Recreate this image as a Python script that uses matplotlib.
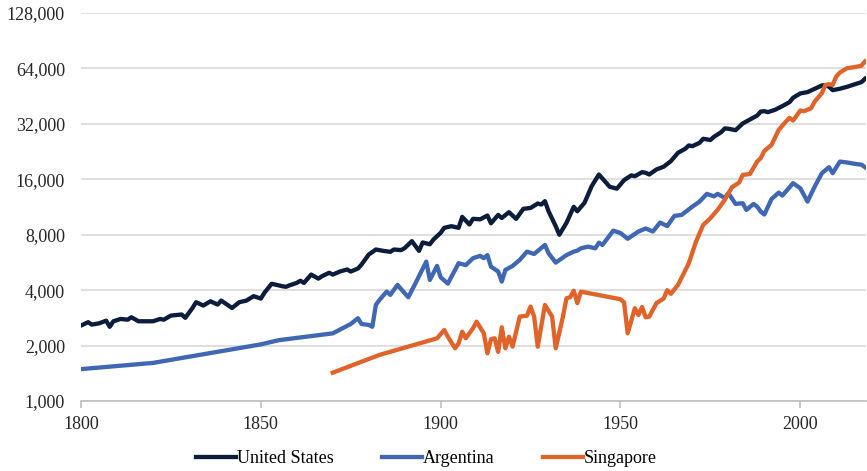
import numpy as np
import matplotlib.pyplot as plt
from matplotlib.ticker import FixedLocator, FuncFormatter

# GDP per capita, log2 scale
us_years = [1800, 1802, 1803, 1805, 1807, 1808, 1809, 1811, 1813, 1814, 1816, 1820,
            1822, 1823, 1825, 1828, 1829, 1831, 1832, 1834, 1836, 1838, 1839, 1841,
            1842, 1844, 1846, 1848, 1850, 1851, 1853, 1854, 1856, 1857, 1858, 1860,
            1861, 1862, 1864, 1866, 1867, 1869, 1870, 1872, 1874, 1875, 1877, 1878,
            1880, 1882, 1884, 1886, 1887, 1889, 1890, 1892, 1894, 1895, 1897, 1898,
            1900, 1901, 1903, 1905, 1906, 1908, 1909, 1911, 1913, 1914, 1916, 1917,
            1919, 1921, 1923, 1925, 1927, 1928, 1929, 1930, 1932, 1933, 1935, 1937,
            1938, 1940, 1942, 1944, 1945, 1947, 1948, 1949, 1951, 1953, 1954, 1956,
            1957, 1958, 1960, 1962, 1964, 1966, 1968, 1969, 1970, 1972, 1973, 1975,
            1976, 1978, 1979, 1980, 1982, 1984, 1986, 1988, 1989, 1990, 1991, 1993,
            1995, 1997, 1998, 2000, 2002, 2004, 2006, 2007, 2008, 2009, 2011, 2013,
            2015, 2017, 2018]
us_gdp = [2570, 2680, 2600, 2640, 2730, 2530, 2710, 2790, 2765, 2850, 2710, 2710,
          2790, 2765, 2910, 2950, 2830, 3200, 3440, 3300, 3480, 3340, 3510, 3300,
          3200, 3440, 3510, 3710, 3600, 3870, 4330, 4290, 4200, 4170, 4250, 4380,
          4500, 4380, 4860, 4620, 4760, 4970, 4860, 5050, 5180, 5050, 5240, 5510,
          6240, 6650, 6540, 6460, 6650, 6600, 6770, 7380, 6540, 7260, 7100, 7530,
          8190, 8720, 8900, 8720, 10000, 9090, 9760, 9700, 10170, 9230, 10250, 9860,
          10600, 9760, 11060, 11180, 11820, 11670, 12170, 10730, 8900, 8000, 9290, 11340,
          10730, 11930, 14680, 16990, 16150, 14570, 14400, 14230, 15830, 16800, 16630, 17490,
          17360, 16990, 18090, 18720, 20070, 22290, 23430, 24420, 24210, 25260, 26560, 26150,
          27230, 28840, 30210, 30100, 29570, 32160, 33800, 35500, 37300, 37500, 37050, 38180,
          39940, 41990, 44350, 46810, 47600, 49650, 51740, 52000, 50860, 48770, 49650, 50860,
          52390, 53930, 56250]

arg_years = [1800, 1820, 1850, 1855, 1870, 1875, 1877, 1878, 1880, 1881, 1882, 1883,
             1885, 1886, 1888, 1891, 1893, 1896, 1897, 1899, 1900, 1902, 1904, 1905,
             1907, 1909, 1911, 1912, 1913, 1914, 1916, 1917, 1918, 1920, 1922, 1924,
             1926, 1929, 1930, 1932, 1935, 1937, 1938, 1939, 1941, 1943, 1944, 1945,
             1948, 1950, 1952, 1955, 1957, 1959, 1961, 1963, 1965, 1967, 1970, 1972,
             1974, 1976, 1977, 1979, 1980, 1982, 1984, 1985, 1987, 1988, 1989, 1990,
             1992, 1994, 1995, 1998, 2000, 2002, 2004, 2006, 2008, 2009, 2011, 2013,
             2015, 2017, 2018]
arg_gdp = [1490, 1610, 2030, 2140, 2330, 2620, 2815, 2620, 2590, 2530, 3330, 3540,
           3930, 3770, 4270, 3660, 4360, 5715, 4545, 5415, 4700, 4340, 5150, 5600,
           5470, 5965, 6140, 5965, 6200, 5365, 5050, 4450, 5150, 5415, 5840, 6475,
           6290, 7040, 6350, 5645, 6200, 6475, 6555, 6750, 6890, 6750, 7245, 7040,
           8420, 8170, 7600, 8330, 8650, 8330, 9310, 8920, 10120, 10250, 11370, 12110,
           13330, 12920, 13330, 12680, 13460, 11760, 11860, 10910, 11760, 11370, 10680, 10300,
           12500, 13550, 13050, 15240, 14300, 12110, 14610, 17270, 18610, 17270, 19970, 19740,
           19430, 19200, 18610]

sgp_years = [1870, 1883, 1899, 1901, 1902, 1904, 1905, 1906, 1907, 1909, 1910, 1912,
             1913, 1914, 1915, 1916, 1917, 1918, 1919, 1920, 1922, 1924, 1925, 1926,
             1927, 1929, 1931, 1932, 1934, 1935, 1936, 1937, 1938, 1939, 1950, 1951,
             1952, 1954, 1955, 1956, 1957, 1958, 1960, 1962, 1963, 1964, 1966, 1969,
             1971, 1973, 1975, 1977, 1979, 1981, 1983, 1984, 1986, 1988, 1989, 1990,
             1992, 1994, 1996, 1997, 1998, 2000, 2001, 2003, 2004, 2006, 2007, 2008,
             2009, 2010, 2011, 2013, 2015, 2017, 2018]
sgp_gdp = [1425, 1780, 2190, 2430, 2236, 1933, 2058, 2380, 2192, 2483, 2697, 2333,
           1816, 2164, 2192, 1850, 2514, 1933, 2236, 1973, 2872, 2906, 3256, 2872,
           1973, 3324, 2872, 1933, 2872, 3614, 3660, 3975, 3400, 3925, 3570, 3430,
           2333, 3190, 2933, 3240, 2850, 2872, 3400, 3600, 4000, 3820, 4270, 5600,
           7337, 9045, 9830, 10910, 12370, 14490, 15360, 16900, 17100, 19970, 20840, 22800,
           24610, 29690, 32940, 34470, 33350, 37800, 37500, 38890, 42300, 46990, 52100, 52500,
           52100, 57840, 60800, 64200, 65000, 66200, 69800]

y_ticks = [1000, 2000, 4000, 8000, 16000, 32000, 64000, 128000]
x_ticks = [1800, 1850, 1900, 1950, 2000]

plt.rcParams['font.family'] = ['Liberation Serif', 'DejaVu Serif']

fig = plt.figure(figsize=(8.67, 4.71), dpi=100)
ax = fig.add_axes([0.0934, 0.1486, 0.906, 0.8238])

ax.plot(us_years, us_gdp, color='#0c1c3c', lw=3.1, label='United States', solid_joinstyle='round')
ax.plot(arg_years, arg_gdp, color='#3f67b3', lw=3.1, label='Argentina', solid_joinstyle='round')
ax.plot(sgp_years, sgp_gdp, color='#e0632a', lw=3.1, label='Singapore', solid_joinstyle='round')

ax.set_yscale('log', base=2)
ax.set_ylim(1000, 128000)
ax.set_xlim(1800, 2018.4)
ax.yaxis.set_major_locator(FixedLocator(y_ticks))
ax.yaxis.set_minor_locator(FixedLocator([]))
ax.yaxis.set_major_formatter(FuncFormatter(lambda v, p: f"{int(round(v)):,}"))
ax.set_xticks(x_ticks)

ax.grid(axis='y', color='#d9d9d9', lw=1.2)
ax.set_axisbelow(True)
for s in ['top', 'right', 'left']:
    ax.spines[s].set_visible(False)
ax.spines['bottom'].set_color('#bfbfbf')
ax.spines['bottom'].set_linewidth(1.2)

ax.tick_params(axis='y', length=0, pad=11.5, labelsize=13, labelcolor='#262626')
ax.tick_params(axis='x', length=5, width=1.2, color='#bfbfbf', pad=6,
               labelsize=13, labelcolor='#262626')

ax.legend(loc='upper center', bbox_to_anchor=(0.44, -0.085), ncol=3, frameon=False,
          fontsize=13, handlelength=2.2, handletextpad=0.05, columnspacing=2.7)

fig.savefig('out.png', dpi=100)
